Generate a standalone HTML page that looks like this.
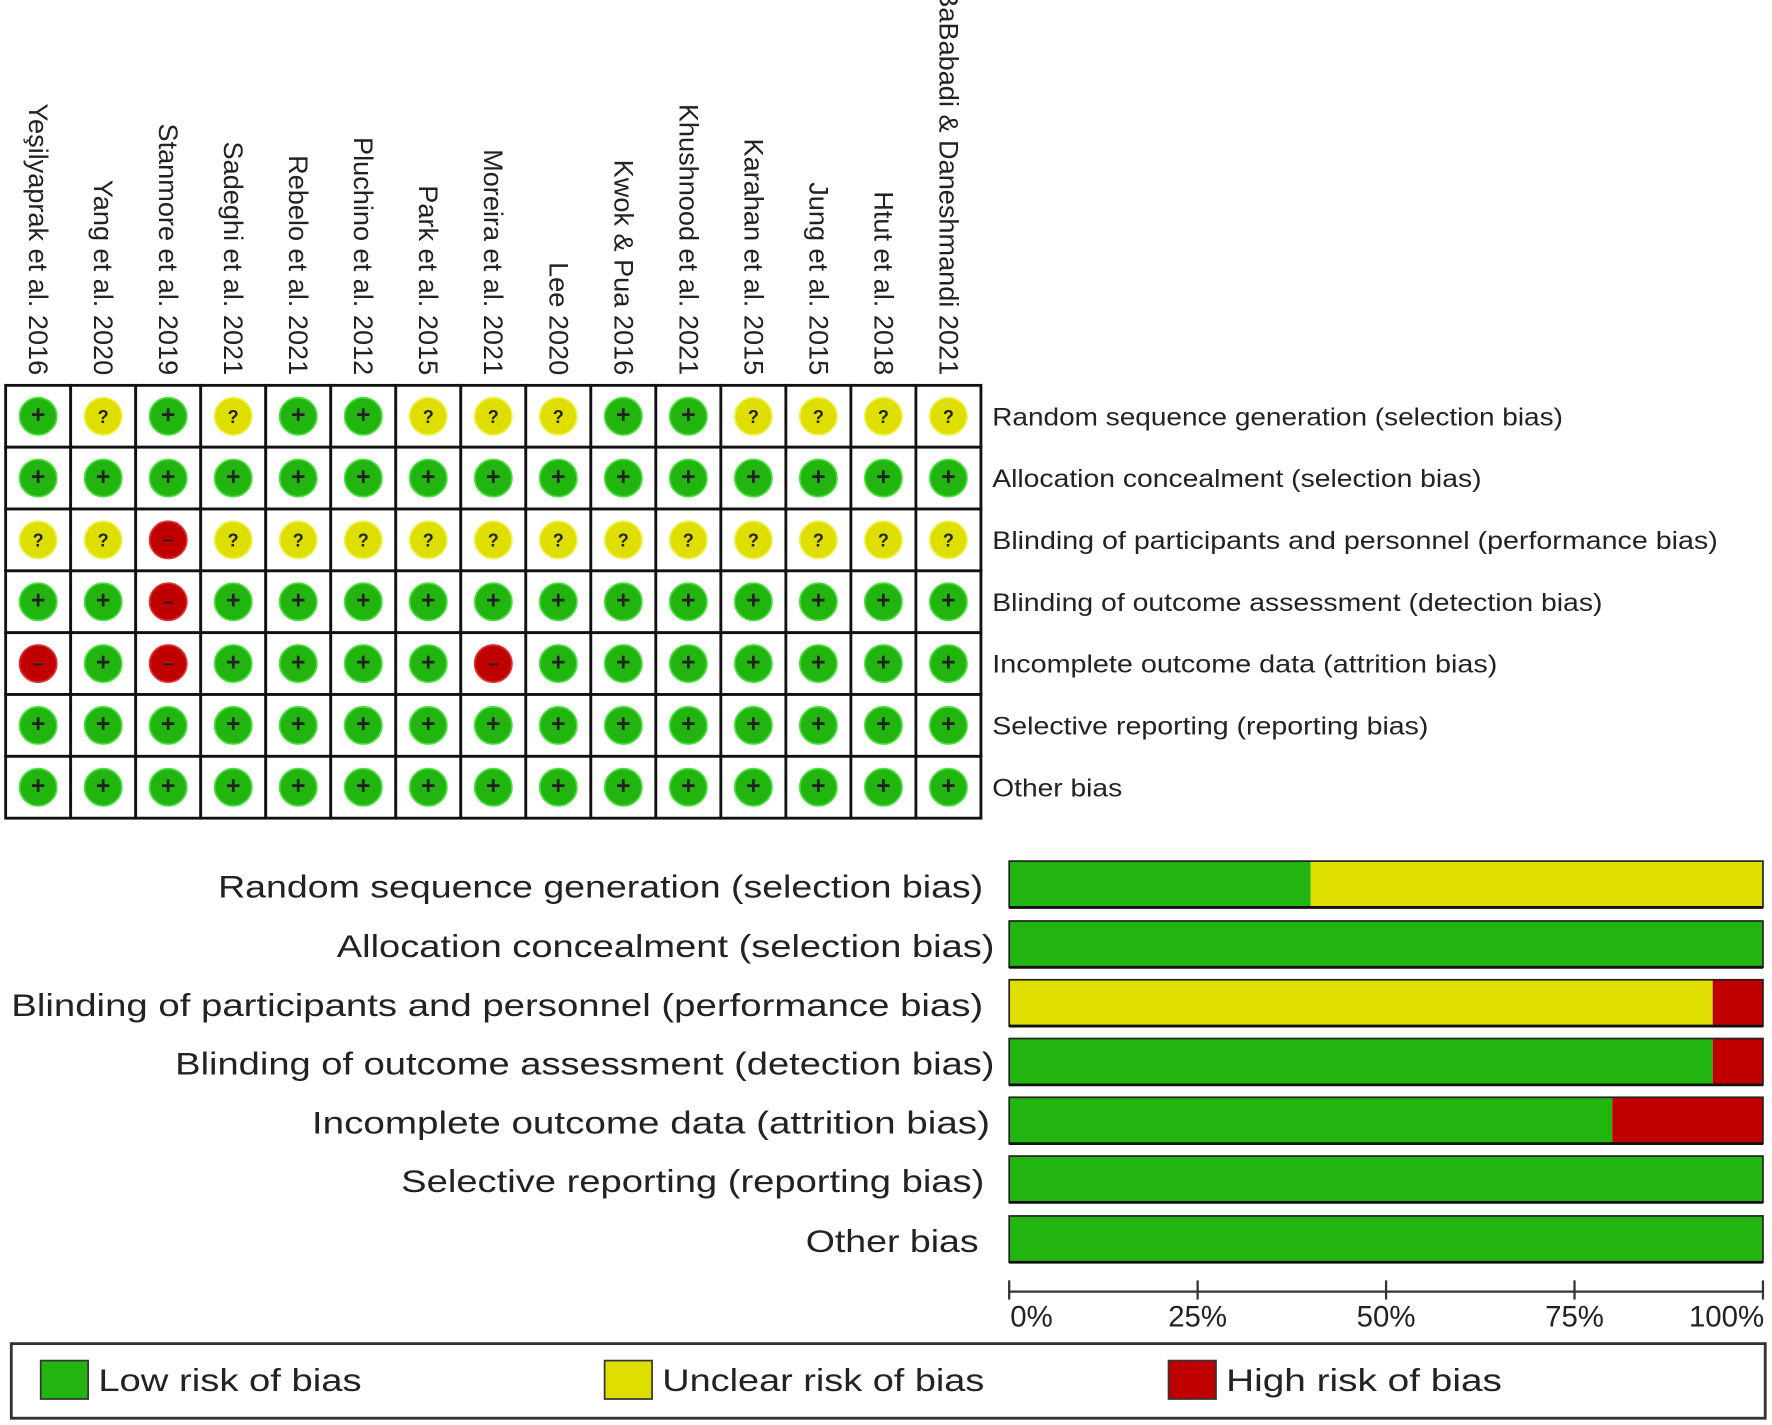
<!DOCTYPE html>
<html><head><meta charset="utf-8"><style>
html,body{margin:0;padding:0;background:#fff;}
svg{display:block;}
text{font-family:"Liberation Sans","DejaVu Sans",sans-serif;fill:#222;}
</style></head><body>
<svg id="chart" width="1772" height="1425" viewBox="0 0 1568 1261" preserveAspectRatio="none" xmlns="http://www.w3.org/2000/svg"></svg>
<script>
const studies = ["Yeşilyaprak et al. 2016","Yang et al. 2020","Stanmore et al. 2019","Sadeghi et al. 2021","Rebelo  et al. 2021","Pluchino et al. 2012","Park et al. 2015","Moreira et al. 2021","Lee 2020","Kwok & Pua 2016","Khushnood et al. 2021","Karahan et al. 2015","Jung et al. 2015","Htut et al. 2018","BaBabadi & Daneshmandi 2021"];
const domains = ["Random sequence generation (selection bias)","Allocation concealment (selection bias)","Blinding of participants and personnel (performance bias)","Blinding of outcome assessment (detection bias)","Incomplete outcome data (attrition bias)","Selective reporting (reporting bias)","Other bias"];
const judgementRow1 = "GYGYGGYYYGGYYYY";
const judgementRow2 = "GGGGGGGGGGGGGGG";
const judgementRow3 = "YYRYYYYYYYYYYYY";
const judgementRow4 = "GGRGGGGGGGGGGGG";
const judgementRow5 = "RGRGGGGRGGGGGGG";
const judgementRow6 = "GGGGGGGGGGGGGGG";
const judgementRow7 = "GGGGGGGGGGGGGGG";
const judgements = [judgementRow1,judgementRow2,judgementRow3,judgementRow4,judgementRow5,judgementRow6,judgementRow7];
const tickLabels = ["0%","25%","50%","75%","100%"];
const tickValues = [0,25,50,75,100];
const legendLabels = ["Low risk of bias","Unclear risk of bias","High risk of bias"];

const NS="http://www.w3.org/2000/svg";
const svg=document.getElementById('chart');
const COL={G:"#22b510",Y:"#dede00",R:"#c00000"};
const HALO={G:"#4be040",Y:"#f0f050",R:"#e03030"};
const SYM={G:"+",Y:"?",R:"−"};
function mk(tag,attrs,parent){const e=document.createElementNS(NS,tag);for(const k in attrs)e.setAttribute(k,attrs[k]);(parent||svg).appendChild(e);return e;}

const gx0=5,gx1=868,gy0=341,gy1=724;
const cw=(gx1-gx0)/studies.length, rh=(gy1-gy0)/domains.length;
const colX=i=>gx0+cw*(i+0.5);
const rowY=j=>gy0+rh*(j+0.5);

studies.forEach((s,i)=>{
  const t=mk('text',{transform:`translate(${colX(i)-8},332) rotate(90)`,'text-anchor':'end','font-size':24});
  
  
  t.textContent=s;
});
const gg=mk('g',{});


const gridLabelLen=[505,433,642,540,447,386,115];
domains.forEach((d,j)=>{
  studies.forEach((s,i)=>{
    const v=judgements[j][i];
    mk('rect',{x:gx0+cw*i,y:gy0+rh*j,width:cw,height:rh,fill:'#fff',stroke:'#111','stroke-width':2.5},gg);
    const c=mk('circle',{cx:colX(i),cy:rowY(j),r:16.5,fill:COL[v],stroke:HALO[v],'stroke-width':1.5},gg);
    
    
    const t=mk('text',{x:colX(i),y:rowY(j)+6,'text-anchor':'middle','font-size':v==='G'?22:16,'font-weight':'bold',fill:'#111'},gg);
    t.textContent=SYM[v];
  });
  const l=mk('text',{x:878,y:rowY(j)+8,'font-size':22,textLength:gridLabelLen[j],lengthAdjust:'spacingAndGlyphs'});
  
  
  l.textContent=d;
});

const bx0=893,bx1=1560;
const xs=p=>bx0+(bx1-bx0)*p/100;
const barTops=[762,815,867,919,971,1023,1076], bh=41;
const labelLeft=[193,298,10,155,276,355,713];
const labelRight=[870,880,870,880,876,871,866];
domains.forEach((d,j)=>{
  const row=judgements[j];const n=row.length;
  const pG=row.split('').filter(c=>c==='G').length/n*100;
  const pY=row.split('').filter(c=>c==='Y').length/n*100;
  const pR=row.split('').filter(c=>c==='R').length/n*100;
  const y=barTops[j];
  let acc=0;
  [['G',pG],['Y',pY],['R',pR]].forEach(([k,p])=>{
    if(p<=0)return;
    const r=mk('rect',{x:xs(acc),y:y,width:xs(acc+p)-xs(acc),height:bh,fill:COL[k]});
    
    
    acc+=p;
  });
  mk('rect',{x:bx0,y:y,width:bx1-bx0,height:bh,fill:'none',stroke:'#222','stroke-width':1.5});
  mk('line',{x1:bx0,x2:bx1,y1:y+bh,y2:y+bh,stroke:'#111','stroke-width':2.5});
  const t=mk('text',{x:labelLeft[j],y:y+32,'font-size':28,textLength:labelRight[j]-labelLeft[j],lengthAdjust:'spacingAndGlyphs'});
  
  
  t.textContent=d;
});
const ax=mk('g',{});


mk('line',{x1:xs(0),x2:xs(100),y1:1143,y2:1143,stroke:'#333','stroke-width':2},ax);
tickValues.forEach((v,i)=>{
  mk('line',{x1:xs(v),x2:xs(v),y1:1133,y2:1150,stroke:'#333','stroke-width':2},ax);
  const t=mk('text',{x:i===0?xs(v)+1:(i===4?xs(v)+1:xs(v)),y:1174,'text-anchor':i===0?'start':(i===4?'end':'middle'),'font-size':26},ax);
  
  
  t.textContent=tickLabels[i];
});
const lg=mk('g',{});


mk('rect',{x:10,y:1189,width:1552,height:66,fill:'#fff',stroke:'#333','stroke-width':2.5},lg);
const lx=[36,535,1034],lk=['G','Y','R'],lLen=[233,285,244];
legendLabels.forEach((s,i)=>{
  const e=mk('g',{},lg);
  
  
  mk('rect',{x:lx[i],y:1204,width:42,height:34,fill:COL[lk[i]],stroke:'#333','stroke-width':1.5},e);
  const t=mk('text',{x:lx[i]+51,y:1231,'font-size':28,textLength:lLen[i],lengthAdjust:'spacingAndGlyphs'},e);
  t.textContent=s;
});
</script>
</body></html>
